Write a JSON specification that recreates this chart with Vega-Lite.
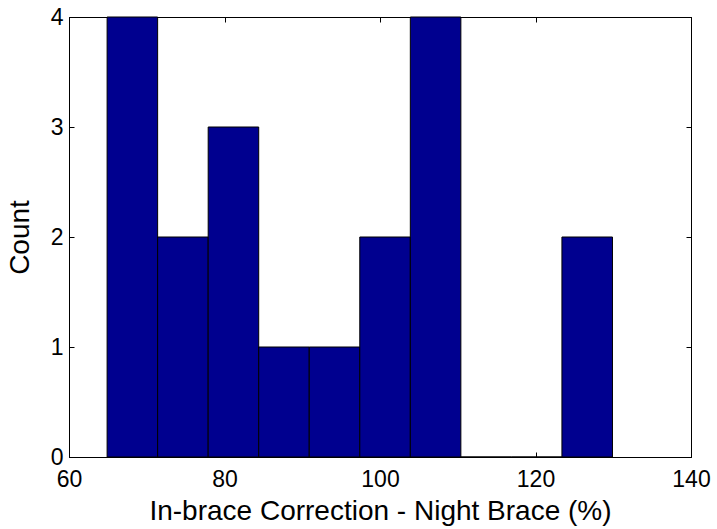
{
  "$schema": "https://vega.github.io/schema/vega-lite/v6.json",
  "width": 622,
  "height": 440,
  "autosize": {"type": "none"},
  "padding": {"left": 69, "top": 17, "right": 26, "bottom": 72},
  "background": "white",
  "config": {
    "view": {"stroke": "black", "strokeWidth": 1},
    "font": "Liberation Sans",
    "axis": {
      "grid": false,
      "domainColor": "black",
      "tickColor": "black",
      "labelColor": "black",
      "titleColor": "black",
      "labelFontSize": 23,
      "titleFontSize": 28,
      "titleFontWeight": "normal",
      "tickSize": -5,
      "labelOverlap": false,
      "labelBound": false,
      "labelFlush": false
    }
  },
  "data": {
    "values": [
      {"start": 64.9, "end": 71.4, "count": 4},
      {"start": 71.4, "end": 77.9, "count": 2},
      {"start": 77.9, "end": 84.4, "count": 3},
      {"start": 84.4, "end": 90.9, "count": 1},
      {"start": 90.9, "end": 97.4, "count": 1},
      {"start": 97.4, "end": 103.9, "count": 2},
      {"start": 103.9, "end": 110.4, "count": 4},
      {"start": 110.4, "end": 116.9, "count": 0},
      {"start": 116.9, "end": 123.4, "count": 0},
      {"start": 123.4, "end": 129.9, "count": 2}
    ]
  },
  "layer": [
    {
      "mark": {"type": "bar", "fill": "#00008F", "stroke": "black", "strokeWidth": 1},
      "encoding": {
        "x": {
          "field": "start", "type": "quantitative",
          "scale": {"domain": [60, 140], "nice": false},
          "axis": {"orient": "bottom", "values": [60, 80, 100, 120, 140], "labelPadding": 16, "titlePadding": 6, "title": "In-brace Correction - Night Brace (%)"}
        },
        "x2": {"field": "end"},
        "y": {
          "field": "count", "type": "quantitative",
          "scale": {"domain": [0, 4], "nice": false},
          "axis": {"orient": "left", "values": [0, 1, 2, 3, 4], "labelPadding": 11, "titlePadding": 16, "title": "Count"}
        },
        "y2": {"datum": 0}
      }
    },
    {
      "mark": {"type": "bar", "opacity": 0},
      "encoding": {
        "x": {
          "field": "start", "type": "quantitative",
          "scale": {"domain": [60, 140], "nice": false},
          "axis": {"orient": "top", "values": [60, 80, 100, 120, 140], "labels": false, "title": null}
        },
        "x2": {"field": "end"},
        "y": {
          "field": "count", "type": "quantitative",
          "scale": {"domain": [0, 4], "nice": false},
          "axis": {"orient": "right", "values": [0, 1, 2, 3, 4], "labels": false, "title": null}
        },
        "y2": {"datum": 0}
      }
    }
  ],
  "resolve": {"axis": {"x": "independent", "y": "independent"}}
}
